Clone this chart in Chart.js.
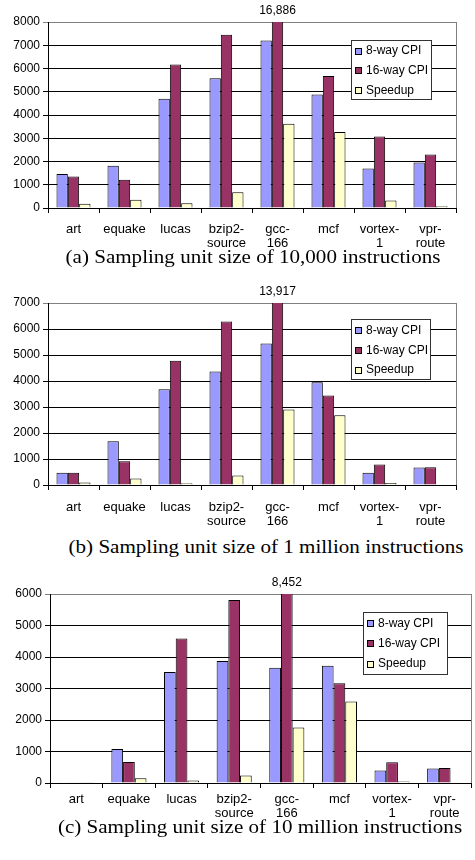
<!DOCTYPE html>
<html>
<head>
<meta charset="utf-8">
<script src="https://cdn.jsdelivr.net/npm/chart.js@4.4.0/dist/chart.umd.min.js"></script>
<style>
  body { margin: 0; background: #fff; width: 475px; height: 860px; position: relative; overflow: hidden; }
  canvas { position: absolute; left: 0; }
  .cap {
    position: absolute;
    font-family: "Liberation Serif", "Times New Roman", serif;
    font-size: 18px;
    line-height: 18px;
    white-space: nowrap;
    color: #000;
    transform: translateX(-50%) scaleX(1.17);
  }
</style>
</head>
<body>
<canvas id="chartA" width="475" height="250" style="top:0px"></canvas>
<canvas id="chartB" width="475" height="250" style="top:280px"></canvas>
<canvas id="chartC" width="475" height="252" style="top:570px"></canvas>
<div class="cap" style="left:253px; top:248px">(a) Sampling unit size of 10,000 instructions</div>
<div class="cap" style="left:266px; top:538px">(b) Sampling unit size of 1 million instructions</div>
<div class="cap" style="left:260px; top:818px">(c) Sampling unit size of 10 million instructions</div>

<script>
const categories = [['art'], ['equake'], ['lucas'], ['bzip2-', 'source'], ['gcc-', '166'], ['mcf'], ['vortex-', '1'], ['vpr-', 'route']];
const seriesNames = ['8-way CPI', '16-way CPI', 'Speedup'];

// (a) 10,000 instructions
const cpi8A = [1460, 1820, 4700, 5580, 7200, 4880, 1700, 1960];
const cpi16A = [1350, 1210, 6170, 7450, 16886, 5680, 3080, 2300];
const speedupA = [180, 350, 200, 680, 3620, 3270, 320, 80];
const yTicksA = [0, 1000, 2000, 3000, 4000, 5000, 6000, 7000, 8000];

// (b) 1 million instructions
const cpi8B = [470, 1680, 3680, 4370, 5440, 3950, 470, 670];
const cpi16B = [470, 910, 4780, 6290, 13917, 3440, 790, 680];
const speedupB = [100, 250, 70, 370, 2900, 2680, 80, 5];
const yTicksB = [0, 1000, 2000, 3000, 4000, 5000, 6000, 7000];

// (c) 10 million instructions
const cpi8C = [25, 1080, 3520, 3870, 3660, 3720, 400, 460];
const cpi16C = [25, 670, 4590, 5810, 8452, 3170, 660, 480];
const speedupC = [10, 150, 80, 240, 1760, 2590, 50, 5];
const yTicksC = [0, 1000, 2000, 3000, 4000, 5000, 6000];

const colors = ['#9999FF', '#993366', '#FFFFCC'];
const FONT = '"Liberation Sans", Arial, sans-serif';

// draws the clipped-bar value, the grey right edge and the boxed legend
const framePlugin = {
  id: 'frame',
  afterDatasetsDraw(chart, args, opts) {
    const ctx = chart.ctx;
    const a = chart.chartArea;
    const yMax = chart.scales.y.max;

    chart.data.datasets.forEach((ds, i) => {
      const meta = chart.getDatasetMeta(i);
      ds.data.forEach((v, j) => {
        if (v > yMax) {
          ctx.save();
          ctx.font = '12px ' + FONT;
          ctx.fillStyle = '#000';
          ctx.textAlign = 'center';
          ctx.textBaseline = 'bottom';
          ctx.fillText(v.toLocaleString('en-US'), meta.data[j].x, a.top - 5);
          ctx.restore();
        }
      });
    });

    ctx.save();
    ctx.strokeStyle = '#808080';
    ctx.lineWidth = 1;
    ctx.beginPath();
    ctx.moveTo(Math.round(a.right) + 0.5, a.top);
    ctx.lineTo(Math.round(a.right) + 0.5, a.bottom);
    ctx.stroke();

    // legend
    const L = opts.box;
    ctx.fillStyle = '#fff';
    ctx.fillRect(L.x, L.y, L.w, L.h);
    ctx.strokeStyle = '#333';
    ctx.strokeRect(L.x + 0.5, L.y + 0.5, L.w, L.h);
    ctx.font = '12px ' + FONT;
    ctx.textBaseline = 'middle';
    ctx.textAlign = 'left';
    chart.data.datasets.forEach((ds, i) => {
      const cy = L.y + L.first + i * L.step;
      ctx.fillStyle = ds.backgroundColor;
      ctx.fillRect(L.x + 4, Math.round(cy - 3), 6, 6);
      ctx.strokeStyle = '#000';
      ctx.strokeRect(L.x + 4.5, Math.round(cy - 3) + 0.5, 6, 6);
      ctx.fillStyle = '#000';
      ctx.fillText(ds.label, L.x + 15, cy + 0.5);
    });
    ctx.restore();
  }
};

function makeChart(id, s8, s16, sp, yTicks, geo) {
  const yMax = yTicks[yTicks.length - 1];
  const H = document.getElementById(id).height;
  return new Chart(document.getElementById(id), {
    type: 'bar',
    data: {
      labels: categories,
      datasets: [s8, s16, sp].map((d, i) => ({
        label: seriesNames[i],
        data: d,
        backgroundColor: colors[i],
        borderColor: '#000',
        borderWidth: 1,
        categoryPercentage: 0.667,
        barPercentage: 1.0,
        clip: 0,
      })),
    },
    options: {
      responsive: false,
      animation: false,
      events: [],
      layout: { padding: { left: 0, right: 475 - geo.right, top: geo.top, bottom: 0 } },
      plugins: {
        legend: { display: false },
        tooltip: { enabled: false },
        frame: { box: geo.legend },
      },
      scales: {
        x: {
          grid: { drawOnChartArea: false, color: '#000', tickLength: 5, offset: true },
          border: { color: '#000' },
          ticks: { color: '#000', font: { family: FONT, size: 13, lineHeight: 1.12 }, padding: geo.labelPad, maxRotation: 0, autoSkip: false },
          afterFit: (s) => { s.height = H - geo.bottom; },
        },
        y: {
          min: 0,
          max: yMax,
          grid: { color: (c) => (c.tick && c.tick.value === yMax ? '#808080' : '#000'), tickLength: 5 },
          border: { color: '#000' },
          ticks: { color: '#000', font: { family: FONT, size: 12 }, padding: 3, callback: (v) => String(v) },
          afterBuildTicks: (s) => { s.ticks = yTicks.map((v) => ({ value: v })); },
          afterFit: (s) => { s.width = geo.left; },
        },
      },
    },
    plugins: [framePlugin],
  });
}

makeChart('chartA', cpi8A, cpi16A, speedupA, yTicksA, {
  left: 48, right: 456, top: 22, bottom: 208, labelPad: 9,
  legend: { x: 351, y: 40, w: 80, h: 59, first: 10.5, step: 19.8 },
});
makeChart('chartB', cpi8B, cpi16B, speedupB, yTicksB, {
  left: 48, right: 456, top: 23, bottom: 205, labelPad: 10,
  legend: { x: 351, y: 39, w: 79, h: 60, first: 11, step: 19.8 },
});
makeChart('chartC', cpi8C, cpi16C, speedupC, yTicksC, {
  left: 50, right: 471, top: 24, bottom: 213, labelPad: 4,
  legend: { x: 363, y: 42, w: 84, h: 62, first: 11, step: 20.3 },
});
</script>
</body>
</html>
